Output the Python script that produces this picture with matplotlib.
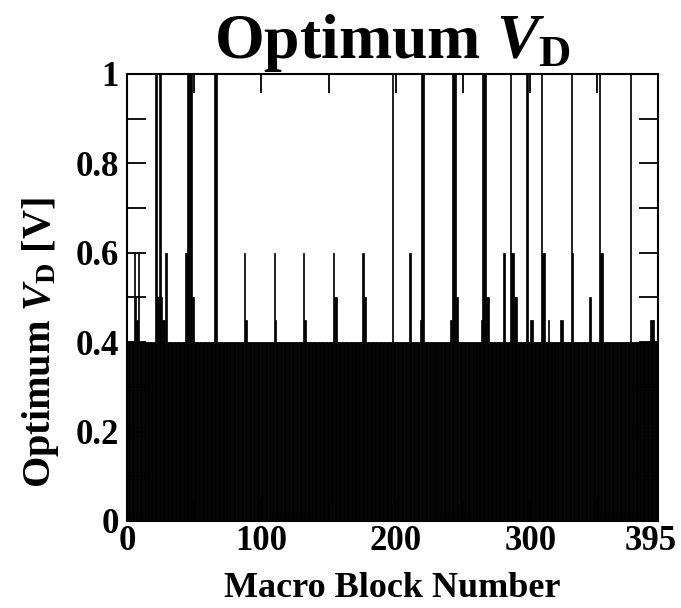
import numpy as np
import matplotlib
matplotlib.use("Agg")
import matplotlib.pyplot as plt
import matplotlib.transforms as mtransforms
from matplotlib.ticker import MultipleLocator


N_BLOCKS = 395
BASE_VD = 0.4

# macro blocks whose optimum V_D differs from the 0.4 V baseline
BLOCKS_045 = [7, 26, 27, 88, 110, 132, 218, 240, 241, 263, 300, 301, 313,
              322, 323, 389, 390, 391]
BLOCKS_050 = [6, 22, 23, 25, 48, 49, 154, 155, 176, 177, 245, 267, 268,
              288, 289, 344]
BLOCKS_060 = [5, 8, 28, 29, 43, 44, 87, 109, 131, 153, 175, 210, 280, 286,
              287, 309, 310, 331, 352, 353]
BLOCKS_100 = [21, 24, 45, 46, 47, 65, 66, 197, 219, 220, 242, 243, 244,
              264, 265, 266, 285, 297, 308, 330, 351, 374]

X_TICKS = [0, 100, 200, 300, 395]
Y_TICKS = [0, 0.2, 0.4, 0.6, 0.8, 1.0]
Y_TICK_LABELS = ["0", "0.2", "0.4", "0.6", "0.8", "1"]


def build_values():
    vd = np.full(N_BLOCKS, BASE_VD)
    for level, blocks in ((0.45, BLOCKS_045), (0.5, BLOCKS_050),
                          (0.6, BLOCKS_060), (1.0, BLOCKS_100)):
        vd[blocks] = level
    return vd


def main():
    plt.rcParams["font.family"] = ["Liberation Serif", "DejaVu Serif"]
    plt.rcParams["font.weight"] = "bold"
    plt.rcParams["axes.labelweight"] = "bold"
    plt.rcParams["axes.titleweight"] = "bold"
    plt.rcParams["mathtext.fontset"] = "custom"
    plt.rcParams["mathtext.rm"] = "Liberation Serif:bold"
    plt.rcParams["mathtext.bf"] = "Liberation Serif:bold"
    plt.rcParams["mathtext.it"] = "Liberation Serif:italic:bold"

    vd = build_values()
    blocks = np.arange(N_BLOCKS)

    fig = plt.figure(figsize=(6.81, 6.08), dpi=100)
    ax = fig.add_axes([0.1865, 0.1431, 0.7797, 0.7352])

    ax.bar(blocks, vd, width=1.0, align="edge", color="black",
           edgecolor="black", linewidth=0.5)

    ax.set_xlim(0, N_BLOCKS)
    ax.set_ylim(0, 1)
    ax.set_xticks(X_TICKS)
    ax.set_xticklabels([str(t) for t in X_TICKS])
    ax.xaxis.set_minor_locator(MultipleLocator(50))
    ax.set_yticks(Y_TICKS)
    ax.set_yticklabels(Y_TICK_LABELS)
    ax.yaxis.set_minor_locator(MultipleLocator(0.1))

    ax.tick_params(which="both", direction="in", top=True, right=True,
                   length=14, width=1.3, labelsize=25)
    ax.tick_params(axis="x", pad=3)
    ax.tick_params(axis="y", pad=6)
    for spine in ax.spines.values():
        spine.set_linewidth(1.5)

    # nudge the last x label so it stays inside the figure
    last = ax.get_xticklabels()[-1]
    shift = mtransforms.ScaledTranslation(-5 / 72, 0, fig.dpi_scale_trans)
    last.set_transform(last.get_transform() + shift)

    ax.set_xlabel("Macro Block Number", fontsize=26)
    ax.xaxis.set_label_coords(0.5, -0.115)
    ax.set_ylabel(r"Optimum $V_{\mathrm{D}}$ [V]", fontsize=29)
    ax.yaxis.set_label_coords(-0.125, 0.40)
    ax.set_title(r"Optimum $V_{\mathrm{D}}$", fontsize=46, pad=2)

    fig.savefig("out.png", dpi=100)
    plt.close(fig)


if __name__ == "__main__":
    main()
